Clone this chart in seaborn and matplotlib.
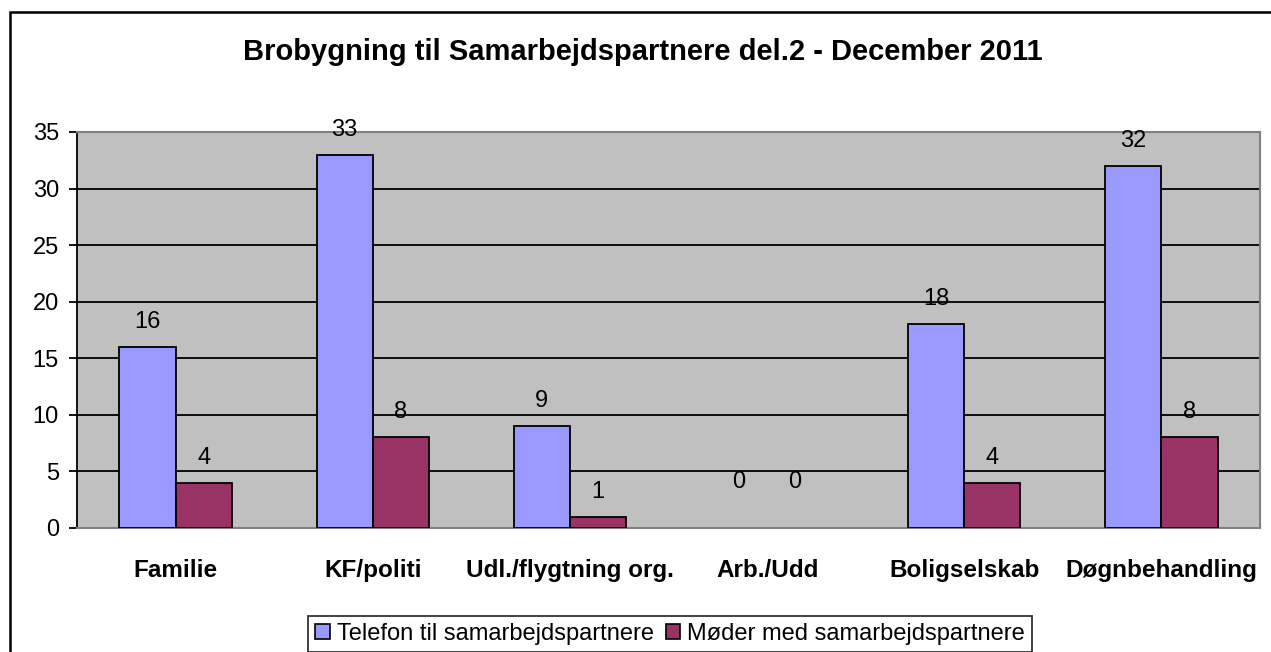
import matplotlib
matplotlib.use("Agg")
import matplotlib.pyplot as plt
import seaborn as sns
import pandas as pd
from matplotlib.patches import Rectangle, Patch

categories = ["Familie", "KF/politi", "Udl./flygtning org.", "Arb./Udd", "Boligselskab", "Døgnbehandling"]
series_names = ["Telefon til samarbejdspartnere", "Møder med samarbejdspartnere"]
telefon = [16, 33, 9, 0, 18, 32]
moder = [4, 8, 1, 0, 4, 8]
yticks = [0, 5, 10, 15, 20, 25, 30, 35]
title = "Brobygning til Samarbejdspartnere del.2 - December 2011"

df = pd.DataFrame({
    "Kategori": categories * 2,
    "Serie": [series_names[0]] * len(categories) + [series_names[1]] * len(categories),
    "Antal": telefon + moder,
})

sns.set_theme(style="white")
plt.rcParams["font.family"] = ["Liberation Sans", "DejaVu Sans"]
plt.rcParams["text.color"] = "black"
plt.rcParams["xtick.color"] = "black"
plt.rcParams["ytick.color"] = "black"

W, H = 1271, 652
fig = plt.figure(figsize=(W / 100, H / 100), dpi=100)
ax = fig.add_axes([77 / W, 1 - 528 / H, (1260 - 77) / W, (528 - 132) / H])

colors = ["#9999FF", "#993366"]
sns.barplot(data=df, x="Kategori", y="Antal", hue="Serie", order=categories,
            hue_order=series_names, palette=colors, saturation=1, width=0.57, gap=0,
            edgecolor="black", linewidth=1.3, ax=ax, legend=False, zorder=3)

ax.set_facecolor("#C0C0C0")
ax.set_ylim(0, 35)
ax.set_yticks(yticks)
ax.set_yticklabels([str(v) for v in yticks], fontsize=17)
ax.yaxis.grid(True, color="black", linewidth=1.3, zorder=1)
ax.set_axisbelow(True)
ax.set_xlabel("")
ax.set_ylabel("")
ax.tick_params(axis="y", which="both", left=True, length=6, width=1.3, color="black",
               labelcolor="black", pad=7)
ax.tick_params(axis="x", length=0, pad=22, labelcolor="black")
for lbl in ax.get_xticklabels():
    lbl.set_fontsize(17.5)
    lbl.set_fontweight("bold")

for s in ["top", "right", "bottom"]:
    ax.spines[s].set_color("#808080")
    ax.spines[s].set_linewidth(1.5)
ax.spines["left"].set_color("black")
ax.spines["left"].set_linewidth(1.3)

# data labels
for container in ax.containers:
    for bar in container:
        h = bar.get_height()
        if h == 0:
            bar.set_linewidth(0)
        off = 18 if h > 0 else 33
        ax.annotate(f"{int(round(h))}", (bar.get_x() + bar.get_width() / 2, h),
                    xytext=(0, off), textcoords="offset points",
                    ha="center", va="center", fontsize=17, color="black",
                    annotation_clip=False, zorder=5)

fig.text(0.5 * (242 + 1043) / W, 1 - 52 / H, title, ha="center", va="center",
         fontsize=21, fontweight="bold", color="black")

handles = [Patch(facecolor=c, edgecolor="black", linewidth=1.2) for c in colors]
leg = fig.legend(handles, series_names, loc="center", bbox_to_anchor=(670 / W, 1 - 634 / H),
                 ncol=2, fontsize=17, frameon=True, fancybox=False, edgecolor="black",
                 handlelength=0.6, handleheight=0.6, handletextpad=0.3, columnspacing=0.5,
                 borderpad=0.3, borderaxespad=0)
leg.get_frame().set_linewidth(1.3)
for t in leg.get_texts():
    t.set_color("black")

fig.patches.append(Rectangle((10 / W, -0.1), 1.2, 1.1 - 12 / H, transform=fig.transFigure,
                             fill=False, edgecolor="black", linewidth=1.8))

fig.savefig("out.png", dpi=100, facecolor="white")
